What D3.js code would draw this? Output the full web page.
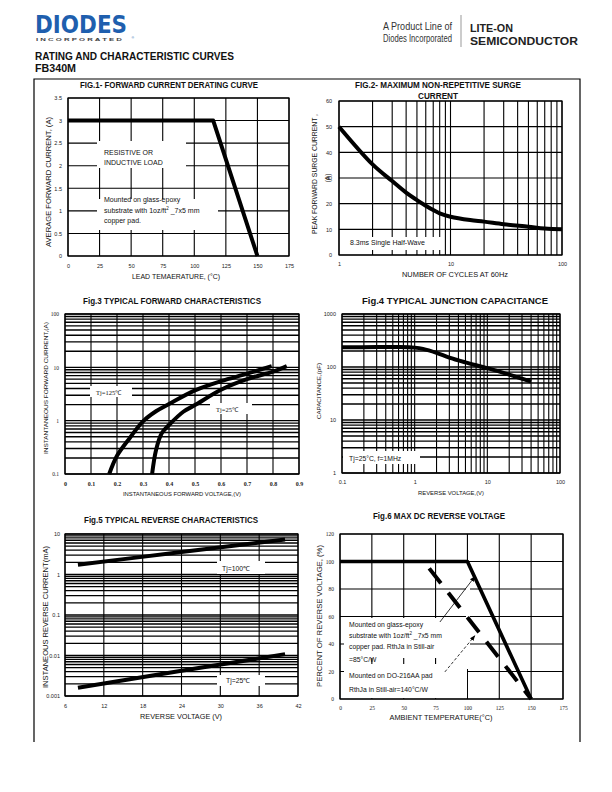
<!DOCTYPE html>
<html><head><meta charset="utf-8">
<script src="https://cdn.jsdelivr.net/npm/d3@7"></script>
<style>body{margin:0;background:#fff}svg{display:block}</style>
</head><body>
<svg id="c" width="612" height="792"></svg>
<script>
// ---------- DATA ----------
const fig1Temp = [0, 115, 150];
const fig1Current = [3, 3, 0];
const fig1XTicks = [0, 25, 50, 75, 100, 125, 150, 175];
const fig1YTicks = [0, 0.5, 1, 1.5, 2, 2.5, 3, 3.5];

const fig2Cycles = [1, 2, 3, 4, 5, 6, 7, 8, 10, 15, 20, 30, 50, 70, 100];
const fig2Current = [50, 35.3, 28.8, 24.3, 21.4, 19.2, 17.5, 16.2, 14.9, 13.6, 13, 12, 11, 10.3, 10];
const fig2XTicks = [1, 10, 100];
const fig2YTicks = [0, 10, 20, 30, 40, 50, 60];

const fig3V125 = [0.17, 0.2, 0.25, 0.3, 0.35, 0.4, 0.5, 0.6, 0.7, 0.795];
const fig3I125 = [0.1, 0.22, 0.48, 0.97, 1.5, 2.05, 3.7, 5.5, 7.6, 10.5];
const fig3V25 = [0.335, 0.35, 0.372, 0.4, 0.455, 0.5, 0.6, 0.7, 0.8, 0.853];
const fig3I25 = [0.1, 0.28, 0.58, 0.83, 1.47, 1.96, 3.8, 6.0, 8.3, 10.5];
const fig3XTicks = [0, 0.1, 0.2, 0.3, 0.4, 0.5, 0.6, 0.7, 0.8, 0.9];
const fig3YTicks = [0.1, 1, 10, 100];

const fig4Voltage = [0.1, 0.3, 0.6, 1.0, 1.3, 2, 3, 5, 10, 20, 40];
const fig4Cap = [235, 238, 238, 232, 220, 185, 150, 122, 95, 72, 53];
const fig4XTicks = [0.1, 1, 10, 100];
const fig4YTicks = [1, 10, 100, 1000];

const fig5Voltage = [8, 16, 24, 32, 40];
const fig5I100 = [1.75, 2.5, 3.58, 5.1, 7.3];
const fig5I25 = [0.0016, 0.0026, 0.0042, 0.0067, 0.0108];
const fig5XTicks = [6, 12, 18, 24, 30, 36, 42];
const fig5YTicks = [0.001, 0.01, 0.1, 1, 10];

const fig6TempSolid = [0, 100, 150];
const fig6PctSolid = [100, 100, 0];
const fig6TempDash = [70, 150];
const fig6PctDash = [95, 0];
const fig6XTicks = [0, 25, 50, 75, 100, 125, 150, 175];
const fig6YTicks = [0, 20, 40, 60, 80, 100, 120];
const fig6ArrowSolid = [[78.4, 56], [105.8, 89]];
const fig6ArrowDash = [[82.3, 19.7], [105.8, 46]];

// ---------- HELPERS ----------
const svg = d3.select('#c');
const SANS = "'Liberation Sans', Arial, sans-serif";
const NARROW = "'Liberation Sans Narrow', 'Liberation Sans', Arial, sans-serif";
const SERIF = "'Liberation Serif', 'Times New Roman', serif";

function logGrid(lo, hi) {
  const out = [];
  for (let e = Math.floor(Math.log10(lo)); e < Math.ceil(Math.log10(hi)); e++) {
    for (let k = 1; k <= 9; k++) { const v = k * Math.pow(10, e); if (v >= lo * 0.999 && v <= hi * 1.001) out.push(v); }
  }
  out.push(hi);
  return out;
}

function txt(t, x, y, o = {}) {
  const el = svg.append('text').attr('x', x).attr('y', y)
    .attr('font-family', o.family || SANS).attr('font-size', o.size || 7)
    .attr('font-weight', o.weight || 'normal').attr('fill', o.fill || '#111')
    .attr('text-anchor', o.anchor || 'start').text(t);
  if (o.len) el.attr('textLength', o.len).attr('lengthAdjust', 'spacingAndGlyphs');
  return el;
}
function vtxt(t, cx, cy, o = {}) {
  const el = svg.append('text').attr('transform', `translate(${cx + 0.35 * (o.size || 7)},${cy}) rotate(-90)`)
    .attr('font-family', o.family || SANS).attr('font-size', o.size || 7)
    .attr('fill', o.fill || '#111').attr('text-anchor', 'middle').text(t);
  if (o.len) el.attr('textLength', o.len).attr('lengthAdjust', 'spacingAndGlyphs');
  return el;
}

function panel(o) {
  const x = (o.xLog ? d3.scaleLog() : d3.scaleLinear()).domain(o.xDomain).range([o.l, o.r]);
  const y = (o.yLog ? d3.scaleLog() : d3.scaleLinear()).domain(o.yDomain).range([o.b, o.t]);
  const g = svg.append('g');
  g.append('g').selectAll('line').data(o.xGrid).join('line')
    .attr('x1', d => x(d)).attr('x2', d => x(d)).attr('y1', o.t).attr('y2', o.b)
    .attr('stroke', '#000').attr('stroke-width', o.gw || 1.1);
  g.append('g').selectAll('line').data(o.yGrid).join('line')
    .attr('y1', d => y(d)).attr('y2', d => y(d)).attr('x1', o.l).attr('x2', o.r)
    .attr('stroke', '#000').attr('stroke-width', o.gwy || o.gw || 1.1);
  (o.boxes || []).forEach(bx => g.append('rect').attr('x', bx[0]).attr('y', bx[1])
    .attr('width', bx[2] - bx[0]).attr('height', bx[3] - bx[1]).attr('fill', '#fff'));
  g.append('rect').attr('x', o.l).attr('y', o.t).attr('width', o.r - o.l).attr('height', o.b - o.t)
    .attr('fill', 'none').attr('stroke', '#000').attr('stroke-width', 1.2);
  const ax = g.append('g').attr('transform', `translate(0,${o.b})`)
    .call(d3.axisBottom(x).tickValues(o.xTicks).tickFormat(o.xFmt || (d => String(d))).tickSize(0).tickPadding(o.xPad || 7));
  const ay = g.append('g').attr('transform', `translate(${o.l},0)`)
    .call(d3.axisLeft(y).tickValues(o.yTicks).tickFormat(o.yFmt || (d => String(d))).tickSize(0).tickPadding(o.yPad || 5));
  [ax, ay].forEach(a => { a.select('.domain').remove(); a.selectAll('text').attr('font-size', o.tickSize || 5.5)
    .attr('font-family', o.tickFamily || SANS).attr('fill', '#222'); });
  if (o.xTickWeight) ax.selectAll('text').attr('font-weight', o.xTickWeight).attr('font-size', 6);
  return { x, y, g };
}
function curve(p, xs, ys, w, opt = {}) {
  const line = d3.line().x(d => p.x(d[0])).y(d => p.y(d[1])).curve(opt.curve || d3.curveLinear);
  const path = p.g.append('path').datum(xs.map((v, i) => [v, ys[i]])).attr('d', line)
    .attr('fill', 'none').attr('stroke', '#000').attr('stroke-width', w).attr('stroke-linejoin', 'round');
  if (opt.dash) path.attr('stroke-dasharray', opt.dash);
  return path;
}

// ---------- HEADER ----------
svg.append('text').attr('transform', 'translate(35,33) scale(1,1.18)')
  .attr('font-family', "'DejaVu Sans', sans-serif").attr('font-weight', 'bold').attr('font-size', 21.5)
  .attr('fill', '#1f5fae').text('DIODES');
txt('I N C O R P O R A T E D', 36, 41, { size: 3.6, weight: 'bold', fill: '#444', len: 86 });
txt('®', 131.5, 39, { size: 3.5, fill: '#1f5fae' });
txt('A Product Line of', 452, 30, { family: NARROW, size: 10, fill: '#333', anchor: 'end', len: 69 });
txt('Diodes Incorporated', 452, 42, { family: NARROW, size: 10, fill: '#333', anchor: 'end', len: 69 });
svg.append('line').attr('x1', 461).attr('x2', 461).attr('y1', 15).attr('y2', 47).attr('stroke', '#999').attr('stroke-width', 1);
txt('LITE-ON', 470, 32, { family: SANS, weight: 'bold', size: 11, fill: '#222', len: 43 });
txt('SEMICONDUCTOR', 470, 44.5, { family: SANS, weight: 'bold', size: 11, fill: '#222', len: 108 });
txt('RATING AND CHARACTERISTIC CURVES', 35, 60, { family: NARROW, weight: 'bold', size: 10.5, len: 199 });
txt('FB340M', 35, 72, { family: NARROW, weight: 'bold', size: 10.5, len: 41 });
svg.append('path').attr('d', 'M34,742V79H580V742').attr('fill', 'none').attr('stroke', '#000').attr('stroke-width', 1.2);

// ---------- FIG 1 ----------
const p1 = panel({ l: 68, r: 289, t: 98, b: 256, xDomain: [0, 175], yDomain: [0, 3.5],
  xGrid: fig1XTicks, yGrid: fig1YTicks, xTicks: fig1XTicks, yTicks: fig1YTicks,
  boxes: [[97, 141, 186, 168], [97, 199, 218, 230]], xPad: 8, yPad: 6 });
curve(p1, fig1Temp, fig1Current, 4);
txt('FIG.1- FORWARD CURRENT DERATING CURVE', 169, 88, { family: NARROW, weight: 'bold', size: 9.5, anchor: 'middle', len: 178 });
txt('RESISTIVE OR', 104, 154.5, { size: 7 });
txt('INDUCTIVE LOAD', 104, 164.5, { size: 7 });
txt('Mounted on glass-epoxy', 104, 202, { size: 7 });
const s1 = txt('substrate with 1oz/ft', 104, 212.5, { size: 7 });
s1.append('tspan').attr('dy', -3).attr('font-size', 4.5).text('2');
s1.append('tspan').attr('dy', 3).text(' _7x5 mm');
txt('copper pad.', 104, 223, { size: 7 });
txt('LEAD TEMAERATURE, (°C)', 176, 279, { size: 6.5, anchor: 'middle', len: 88 });
vtxt('AVERAGE FORWARD CURRENT, (A)', 49, 182, { size: 6.5, len: 130 });

// ---------- FIG 2 ----------
const p2 = panel({ l: 339, r: 562, t: 101, b: 255, xLog: true, xDomain: [1, 100], yDomain: [0, 60],
  xGrid: logGrid(1, 100), yGrid: fig2YTicks, xTicks: fig2XTicks, yTicks: fig2YTicks,
  boxes: [[340, 237, 443, 250]], xPad: 7, yPad: 7 });
curve(p2, fig2Cycles, fig2Current, 4, { curve: d3.curveCatmullRom.alpha(0.5) });
txt('FIG.2- MAXIMUM NON-REPETITIVE SURGE', 438, 88, { family: NARROW, weight: 'bold', size: 9.5, anchor: 'middle', len: 166 });
txt('CURRENT', 438, 99, { family: NARROW, weight: 'bold', size: 9.5, anchor: 'middle', len: 40 });
txt('8.3ms Single Half-Wave', 350, 245, { size: 7 });
txt('NUMBER OF CYCLES AT 60Hz', 455, 277, { size: 6.5, anchor: 'middle', len: 106 });
vtxt('PEAK FORWARD SURGE CURRENT ,', 315, 174, { size: 6.5, len: 120 });
vtxt('(A)', 328, 178, { size: 6.5 });

// ---------- FIG 3 ----------
const p3 = panel({ l: 65, r: 299, t: 314, b: 474, yLog: true, xDomain: [0, 0.9], yDomain: [0.1, 100],
  xGrid: fig3XTicks, yGrid: logGrid(0.1, 100), xTicks: fig3XTicks, yTicks: fig3YTicks,
  boxes: [[90, 386, 132, 397], [210, 403, 252, 414]], xPad: 8, yPad: 6, gwy: 1.4,
  xTickWeight: 'bold', tickFamily: SERIF, tickSize: 5.5 });
curve(p3, fig3V125, fig3I125, 4, { curve: d3.curveCatmullRom.alpha(0.5) });
curve(p3, fig3V25, fig3I25, 4, { curve: d3.curveCatmullRom.alpha(0.5) });
txt('Fig.3 TYPICAL FORWARD CHARACTERISTICS', 172, 304, { family: NARROW, weight: 'bold', size: 9.5, anchor: 'middle', len: 178 });
txt('Tj=125℃', 96, 394.5, { size: 6.5, family: SERIF });
txt('Tj=25℃', 216, 411.5, { size: 6.5, family: SERIF });
txt('INSTANTANEOUS FORWARD VOLTAGE,(V)', 182, 496, { size: 5.2, anchor: 'middle', len: 118 });
vtxt('INSTANTANEOUS FORWARD CURRENT,(A)', 46, 388, { size: 5.2, len: 132 });

// ---------- FIG 4 ----------
const p4 = panel({ l: 342, r: 560, t: 314, b: 473, xLog: true, yLog: true, xDomain: [0.1, 100], yDomain: [1, 1000],
  xGrid: logGrid(0.1, 100), yGrid: logGrid(1, 1000), xTicks: fig4XTicks, yTicks: fig4YTicks,
  boxes: [[343, 451, 420, 464]], xPad: 7, yPad: 6, gwy: 1.4 });
curve(p4, fig4Voltage, fig4Cap, 4, { curve: d3.curveCatmullRom.alpha(0.5) });
txt('Fig.4 TYPICAL JUNCTION CAPACITANCE', 455, 304, { family: NARROW, weight: 'bold', size: 9.5, anchor: 'middle', len: 186 });
txt('Tj=25°C, f=1MHz', 349, 460.5, { size: 6.8 });
txt('REVERSE VOLTAGE,(V)', 451, 495, { size: 5.2, anchor: 'middle', len: 66 });
vtxt('CAPACITANCE,(pF)', 319, 391, { size: 5.2, len: 56 });

// ---------- FIG 5 ----------
const p5 = panel({ l: 65, r: 298, t: 534, b: 696, yLog: true, xDomain: [6, 42], yDomain: [0.001, 10],
  xGrid: fig5XTicks, yGrid: logGrid(0.001, 10), xTicks: fig5XTicks, yTicks: fig5YTicks,
  boxes: [[217, 561, 265, 574], [217, 675, 265, 686]], xPad: 8, yPad: 5, gwy: 1.3 });
curve(p5, fig5Voltage, fig5I100, 4);
curve(p5, fig5Voltage, fig5I25, 4);
txt('Fig.5 TYPICAL REVERSE CHARACTERISTICS', 171, 523, { family: NARROW, weight: 'bold', size: 9.5, anchor: 'middle', len: 174 });
txt('Tj=100℃', 222, 570.5, { size: 6.8 });
txt('Tj=25℃', 226, 683, { size: 6.8 });
txt('REVERSE VOLTAGE (V)', 181, 718.5, { size: 6.8, anchor: 'middle', len: 82 });
vtxt('INSTANEOUS REVERSE CURRENT(mA)', 46, 617, { size: 6.8, len: 142 });

// ---------- FIG 6 ----------
const p6 = panel({ l: 340, r: 563, t: 534, b: 699, xDomain: [0, 175], yDomain: [0, 120],
  xGrid: fig6XTicks, yGrid: fig6YTicks, xTicks: fig6XTicks, yTicks: fig6YTicks,
  boxes: [[344, 618, 467, 658], [344, 664, 467, 698], [466, 563, 470, 669]], xPad: 7, yPad: 6, tickFamily: SERIF, tickSize: 5.5 });
curve(p6, fig6TempSolid, fig6PctSolid, 3.6);
curve(p6, fig6TempDash, fig6PctDash, 4, { dash: '19,12' });
svg.append('defs').append('marker').attr('id', 'ah').attr('viewBox', '0 0 10 10').attr('refX', 9).attr('refY', 5)
  .attr('markerWidth', 7).attr('markerHeight', 7).attr('orient', 'auto')
  .append('path').attr('d', 'M0,1L10,5L0,9Z').attr('fill', '#000');
[[fig6ArrowSolid, null], [fig6ArrowDash, '3,2']].forEach(([a, dash]) => {
  const l = p6.g.append('line').attr('x1', p6.x(a[0][0])).attr('y1', p6.y(a[0][1]))
    .attr('x2', p6.x(a[1][0])).attr('y2', p6.y(a[1][1])).attr('stroke', '#000').attr('stroke-width', 0.8)
    .attr('marker-end', 'url(#ah)');
  if (dash) l.attr('stroke-dasharray', dash);
});
txt('Fig.6 MAX DC REVERSE VOLTAGE', 439, 519, { family: NARROW, weight: 'bold', size: 9.5, anchor: 'middle', len: 132 });
txt('Mounted on glass-epoxy', 349, 627, { size: 6.8 });
const s6 = txt('substrate with 1oz/ft', 349, 638, { size: 6.8 });
s6.append('tspan').attr('dy', -3).attr('font-size', 4.5).text('2');
s6.append('tspan').attr('dy', 3).text(' _7x5 mm');
txt('copper pad. RthJa in Still-air', 349, 649, { size: 6.8 });
txt('=85°C/W', 349, 662, { size: 6.8 });
txt('Mounted on DO-216AA pad', 349, 678, { size: 6.8 });
txt('RthJa in Still-air=140°C/W', 349, 691.5, { size: 6.8 });
txt('AMBIENT TEMPERATURE(°C)', 441, 719.5, { size: 6.8, anchor: 'middle', len: 103 });
vtxt('PERCENT OF REVERSE VOLTAGE, (%)', 320, 616, { size: 6.8, len: 142 });
</script>
</body></html>
